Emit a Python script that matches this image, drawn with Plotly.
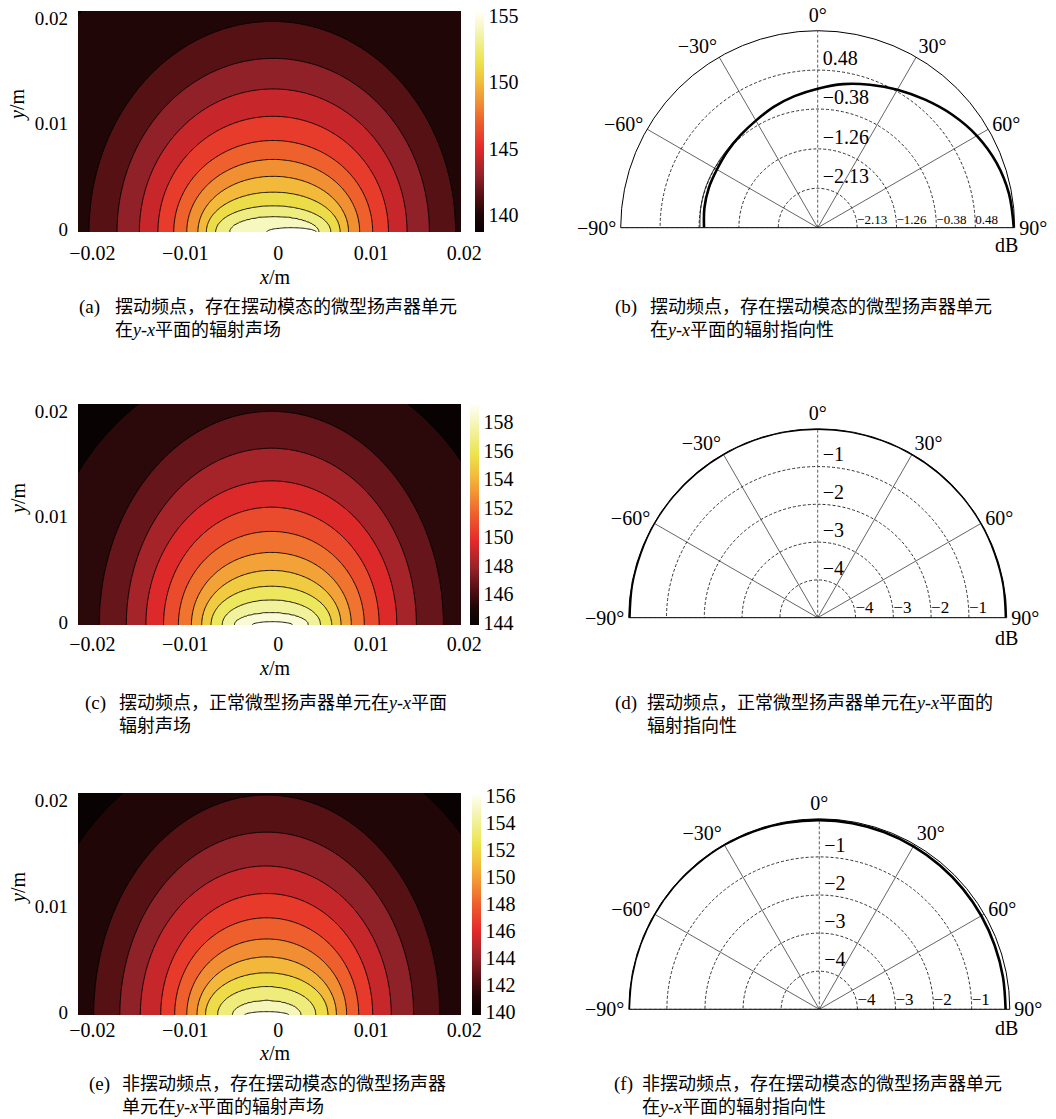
import numpy as np
import plotly.graph_objects as go

W, H = 1056, 1119
SERIF = "Liberation Serif, DejaVu Serif, serif"
CAPF = "Liberation Serif, Noto Sans CJK SC, serif"

# ---------------- data: sound-field panels (a), (c), (e) ----------------
# contour levels [dB], colour-bar range [dB] and, for each contour, the semi-ellipse it
# follows: centre x [m], half-width [m], height [m]
a_levels = [139.4, 140.8, 142.2, 143.6, 145.0, 146.4, 147.8, 149.2, 150.6, 152.0, 153.4, 154.8]
a_cbrange = [138.7, 155.4]
a_cx = [0.0, -0.0001, 0.0, 0.0, 0.0, 0.0, 0.0, 0.0, 0.0, 0.0, 0.0001, 0.0020]
a_hw = [0.0294, 0.0197, 0.0168, 0.0144, 0.0124, 0.0107, 0.0093, 0.0081, 0.0072, 0.0062, 0.0048, 0.0027]
a_ht = [0.0294, 0.0200, 0.0165, 0.0136, 0.0110, 0.0087, 0.0069, 0.0053, 0.0038, 0.0025, 0.0015, 0.0004]
a_cbticks = [140, 145, 150, 155]

c_levels = [144.7, 146.1, 147.5, 148.9, 150.2, 151.5, 152.8, 154.1, 155.4, 156.7, 158.0, 159.0]
c_cbrange = [143.86, 159.25]
c_cx = [0.0, -0.0002, -0.0002, -0.0002, -0.0002, -0.0002, -0.0002, -0.0002, -0.0002, -0.0002, -0.0002, -0.0001]
c_hw = [0.0255, 0.0185, 0.0156, 0.0135, 0.0116, 0.0100, 0.0086, 0.0075, 0.0065, 0.0053, 0.0040, 0.0022]
c_ht = [0.0255, 0.0203, 0.0168, 0.0137, 0.0112, 0.0089, 0.0069, 0.0052, 0.0037, 0.0024, 0.0012, 0.0003]
c_cbticks = [144, 146, 148, 150, 152, 154, 156, 158]

e_levels = [140.5, 141.85, 143.2, 144.6, 145.95, 147.3, 148.7, 150.05, 151.4, 152.8, 154.15, 155.5]
e_cbrange = [139.8, 156.2]
e_cx = [0.0, -0.0007, -0.0007, -0.0008, -0.0007, -0.0007, -0.0007, -0.0007, -0.0007, -0.0007, -0.0007, -0.0007]
e_hw = [0.0265, 0.0186, 0.0158, 0.0135, 0.0114, 0.0099, 0.0086, 0.0075, 0.0066, 0.0053, 0.0037, 0.0024]
e_ht = [0.0265, 0.0208, 0.0173, 0.0141, 0.0115, 0.0092, 0.0072, 0.0055, 0.0040, 0.0027, 0.0014, 0.0003]
e_cbticks = [140, 142, 144, 146, 148, 150, 152, 154, 156]

x_ticks = [-0.02, -0.01, 0, 0.01, 0.02]
x_ticktext = ["\u22120.02", "\u22120.01", "0", "0.01", "0.02"]
y_ticks = [0, 0.01, 0.02]
y_ticktext = ["0", "0.01", "0.02"]

# ---------------- data: directivity panels (b), (d), (f) ----------------
theta = [-90, -80, -70, -60, -50, -40, -30, -20, -10, 0, 10, 20, 30, 40, 50, 60, 70, 80, 90]
b_main = [-0.49, -0.46, -0.44, -0.43, -0.39, -0.34, -0.27, -0.16, -0.05, 0.07, 0.22, 0.36, 0.52,
          0.69, 0.88, 1.06, 1.20, 1.29, 1.33]
b_aux = [-0.40, -0.38, -0.37, -0.37, -0.36, -0.33, -0.27, -0.16, -0.05, 0.07, 0.22, 0.36, 0.52,
         0.69, 0.88, 1.06, 1.20, 1.29, 1.33]
b_rings = [-2.13, -1.26, -0.38, 0.48]
b_ringtext = ["\u22122.13", "\u22121.26", "\u22120.38", "0.48"]
b_range = [-3.0, 1.35]

d_main = [-0.02, -0.01, -0.01, 0, 0, 0, 0, 0, 0, 0, 0, 0, 0, 0, 0, 0, -0.01, -0.01, -0.02]
d_rings = [-4, -3, -2, -1]
d_ringtext = ["\u22124", "\u22123", "\u22122", "\u22121"]
d_range = [-5, 0]

f_main = [0, 0, 0, 0, 0, -0.01, -0.01, -0.02, -0.03, -0.035, -0.04, -0.05, -0.06, -0.07, -0.08,
          -0.09, -0.10, -0.105, -0.11]
f_rings = [-4, -3, -2, -1]
f_ringtext = ["\u22124", "\u22123", "\u22122", "\u22121"]
f_range = [-5, 0]

ang_ticks = [-90, -60, -30, 0, 30, 60, 90]
ang_text = ["\u221290\u00b0", "\u221260\u00b0", "\u221230\u00b0", "0\u00b0", "30\u00b0", "60\u00b0", "90\u00b0"]

captions = [
    ("(a)", "摆动频点，存在摆动模态的微型扬声器单元<br>在<i>y</i>-<i>x</i>平面的辐射声场"),
    ("(b)", "摆动频点，存在摆动模态的微型扬声器单元<br>在<i>y</i>-<i>x</i>平面的辐射指向性"),
    ("(c)", "摆动频点，正常微型扬声器单元在<i>y</i>-<i>x</i>平面<br>辐射声场"),
    ("(d)", "摆动频点，正常微型扬声器单元在<i>y</i>-<i>x</i>平面的<br>辐射指向性"),
    ("(e)", "非摆动频点，存在摆动模态的微型扬声器<br>单元在<i>y</i>-<i>x</i>平面的辐射声场"),
    ("(f)", "非摆动频点，存在摆动模态的微型扬声器单元<br>在<i>y</i>-<i>x</i>平面的辐射指向性"),
]

# ---------------- styling / layout ----------------
HOT = [
    [0.0, (8, 2, 2)], [0.08, (30, 6, 6)], [0.17, (88, 17, 21)],
    [0.26, (150, 35, 42)], [0.38, (228, 42, 42)], [0.50, (238, 95, 45)],
    [0.60, (242, 150, 52)], [0.68, (242, 190, 60)], [0.77, (235, 228, 75)],
    [0.88, (242, 242, 160)], [1.0, (255, 255, 250)],
]
HOT_CS = [[p, "rgb(%d,%d,%d)" % c] for p, c in HOT]
_hp = np.array([p for p, _ in HOT])
_hc = np.array([c for _, c in HOT], dtype=float)


def hot_at(f):
    f = min(max(f, 0.0), 1.0)
    return "rgb(%d,%d,%d)" % tuple(int(round(np.interp(f, _hp, _hc[:, j]))) for j in range(3))


XRANGE = [-0.0210, 0.0202]
YRANGE = [0, 0.021]
PLOT_L, PLOT_R = 78, 461
field_boxes = [(11, 232, 475), (404, 625, 470), (793, 1015, 472)]   # top, bottom, colorbar-left (px)
xstandoff = [7, 5, 1]
polar_geo = [(817.7, 227.7, 197.0), (817.7, 617.7, 189.0), (819.3, 1009.3, 190.5)]  # cx, cy, R (px)
db_pos = [(1006, 245), (1006, 638), (1006, 1028)]
cap_pos = [(77, 113, 307), (613, 648, 307), (83, 117, 703), (613, 645, 703), (87, 120, 1084), (612, 640, 1084)]
ytitle_pos = [105, 499, 888]
xtitle_pos = [277, 668, 1053]

xs = np.linspace(XRANGE[0], XRANGE[1], 321)
ys = np.linspace(YRANGE[0], YRANGE[1], 181)


def build_index_field(cx, hw, ht):
    """Fractional contour index: equals i on contour i (semi-ellipse i)."""
    X, Y = np.meshgrid(xs, ys)
    S = np.array([np.sqrt(((X - c) / a) ** 2 + (Y / b) ** 2) for c, a, b in zip(cx, hw, ht)])
    n = len(cx)
    inside = S <= 1.0
    any_in = inside.any(axis=0)
    idx = np.where(any_in, n - 1 - np.argmax(inside[::-1], axis=0), -1)
    U = np.empty(X.shape)
    out = idx == -1
    U[out] = -0.5 * np.clip((S[0][out] - 1) * 4, 0, 0.999)
    top = idx == n - 1
    U[top] = (n - 1) + 0.5 * np.clip((1 - S[-1][top]) * 4, 0, 0.999)
    mid = (~out) & (~top)
    ii = idx[mid]
    rows, cols = np.nonzero(mid)
    si = S[ii, rows, cols]
    sj = S[ii + 1, rows, cols]
    U[mid] = ii + (1 - si) / ((1 - si) + (sj - 1))
    return U


fig = go.Figure()

fields = [(a_levels, a_cbrange, a_cx, a_hw, a_ht, a_cbticks),
          (c_levels, c_cbrange, c_cx, c_hw, c_ht, c_cbticks),
          (e_levels, e_cbrange, e_cx, e_hw, e_ht, e_cbticks)]

layout = dict(width=W, height=H, margin=dict(l=0, r=0, t=0, b=0), autosize=False,
              template="none", paper_bgcolor="white", plot_bgcolor="white",
              showlegend=False, annotations=[])

for k, (lev, cbr, cx, hw, ht, cbt) in enumerate(fields):
    n = len(lev)
    U = build_index_field(cx, hw, ht)
    zmin, zmax = cbr
    Zdb = np.interp(U, [-0.5] + list(range(n)) + [n - 0.5], [zmin] + list(lev) + [zmax])
    # colour of each band between consecutive contour lines (band mid value on the colour bar)
    mids = [zmin] + [(lev[i - 1] + lev[i]) / 2 for i in range(1, n)] + [zmax]
    band_cs = [[i / n, hot_at((m - zmin) / (zmax - zmin))] for i, m in enumerate(mids)]
    top, bot, cbx = field_boxes[k]
    sfx = "" if k == 0 else str(k + 1)
    fig.add_trace(go.Heatmap(
        x=xs, y=ys, z=Zdb, colorscale=HOT_CS, zmin=zmin, zmax=zmax, hoverinfo="skip",
        xaxis="x" + sfx, yaxis="y" + sfx,
        colorbar=dict(x=cbx / W, xanchor="left", xpad=0, y=1 - (top + bot) / 2 / H, yanchor="middle",
                      ypad=0, len=bot - top, lenmode="pixels", thickness=9, thicknessmode="pixels",
                      outlinewidth=0, tickvals=cbt, ticks="",
                      tickfont=dict(family=SERIF, size=20, color="black"))))
    fig.add_trace(go.Contour(
        x=xs, y=ys, z=U, colorscale=band_cs, showscale=False, hoverinfo="skip",
        contours=dict(start=0, end=n - 1, size=1, coloring="fill"),
        line=dict(color="black", width=0.9), xaxis="x" + sfx, yaxis="y" + sfx))
    ax = dict(domain=[PLOT_L / W, PLOT_R / W], range=XRANGE, tickvals=x_ticks, ticktext=x_ticktext,
              showgrid=False, zeroline=False, showline=False, ticks="", ticklabelstandoff=xstandoff[k],
              ticklabelshift=5,
              tickfont=dict(family=SERIF, size=20, color="black"), anchor="y" + sfx)
    ay = dict(domain=[1 - bot / H, 1 - top / H], range=YRANGE, tickvals=y_ticks, ticktext=y_ticktext,
              showgrid=False, zeroline=False, showline=False, ticks="", ticklabelstandoff=9,
              ticklabelshift=-3,
              tickfont=dict(family=SERIF, size=19, color="black"), anchor="x" + sfx)
    layout["xaxis" + sfx] = ax
    layout["yaxis" + sfx] = ay
    layout["annotations"].append(dict(x=18 / W, y=1 - ytitle_pos[k] / H, xref="paper", yref="paper",
                                      xanchor="center", yanchor="middle",
                                      text="<i>y</i>/m", showarrow=False, textangle=-90,
                                      font=dict(family=SERIF, size=20, color="black")))
    layout["annotations"].append(dict(x=274 / W, y=1 - xtitle_pos[k] / H, xref="paper", yref="paper",
                                      xanchor="center", yanchor="middle",
                                      text="<i>x</i>/m", showarrow=False,
                                      font=dict(family=SERIF, size=20, color="black")))

polars = [(b_main, b_aux, b_rings, b_ringtext, b_range, 13),
          (d_main, None, d_rings, d_ringtext, d_range, 17),
          (f_main, None, f_rings, f_ringtext, f_range, 17)]

for k, (main, aux, rings, rtext, rr, hsize) in enumerate(polars):
    sub = "polar" if k == 0 else "polar" + str(k + 1)
    cxp, cyp, R = polar_geo[k]
    layout[sub] = dict(
        domain=dict(x=[(cxp - R) / W, (cxp + R) / W], y=[1 - cyp / H, 1 - (cyp - R) / H]),
        sector=[0, 180], bgcolor="white",
        angularaxis=dict(rotation=90, direction="clockwise", tickvals=ang_ticks, ticktext=ang_text,
                         showgrid=False, showline=True, linecolor="black", linewidth=1, ticks="",
                         tickfont=dict(family=SERIF, size=20, color="black")),
        radialaxis=dict(range=rr, tickvals=rings, showticklabels=False, ticks="", showline=False,
                        showgrid=True, gridcolor="#333", gridwidth=0.7, griddash="3px,2px"),
    )
    # spokes (solid) and the 0 deg line / baseline (dashed)
    for a in ang_ticks:
        if abs(a) in (30, 60):
            fig.add_trace(go.Scatterpolar(r=[rr[0], rr[1]], theta=[a, a], mode="lines", subplot=sub,
                                          line=dict(color="#222", width=0.7), hoverinfo="skip"))
    fig.add_trace(go.Scatterpolar(r=[rr[0], rr[1]], theta=[0, 0], mode="lines", subplot=sub,
                                  line=dict(color="#333", width=0.8, dash="3px,2px"), hoverinfo="skip"))
    fig.add_trace(go.Scatterpolar(r=[rr[1], rr[0], rr[1]], theta=[-90, -90, 90], mode="lines", subplot=sub,
                                  line=dict(color="#333", width=0.8, dash="3px,2px"), hoverinfo="skip"))
    if aux is not None:
        fig.add_trace(go.Scatterpolar(r=aux, theta=theta, mode="lines", subplot=sub, cliponaxis=False,
                                      line=dict(color="black", width=0.8, shape="spline"), hoverinfo="skip"))
    fig.add_trace(go.Scatterpolar(r=main, theta=theta, mode="lines", subplot=sub, cliponaxis=False,
                                  line=dict(color="black", width=2.6, shape="spline"), hoverinfo="skip"))
    # ring labels along 0 deg and along the right baseline
    fig.add_trace(go.Scatterpolar(r=rings, theta=[0] * len(rings), mode="text",
                                  text=["\u00a0" + t for t in rtext], subplot=sub,
                                  textposition="top right", cliponaxis=False, hoverinfo="skip",
                                  textfont=dict(family=SERIF, size=20, color="black")))
    fig.add_trace(go.Scatterpolar(r=rings, theta=[90] * len(rings), mode="text", text=rtext, subplot=sub,
                                  textposition="top right", cliponaxis=False, hoverinfo="skip",
                                  textfont=dict(family=SERIF, size=hsize, color="black")))
    dx, dy = db_pos[k]
    layout["annotations"].append(dict(x=dx / W, y=1 - dy / H, xref="paper", yref="paper", text="dB",
                                      showarrow=False, xanchor="center", yanchor="middle",
                                      font=dict(family=SERIF, size=20, color="black")))

for (lab, txt), (px0, px1, py) in zip(captions, cap_pos):
    layout["annotations"].append(dict(x=px0 / W, y=1 - py / H, xref="paper", yref="paper", text=lab,
                                      showarrow=False, xanchor="left", yanchor="middle",
                                      font=dict(family=SERIF, size=19, color="black")))
    layout["annotations"].append(dict(x=px1 / W, y=1 - (py - 12) / H, xref="paper", yref="paper", text=txt,
                                      showarrow=False, xanchor="left", yanchor="top", align="left",
                                      font=dict(family=CAPF, size=18, color="black")))

fig.update_layout(**layout)
fig.write_html("out.html")
